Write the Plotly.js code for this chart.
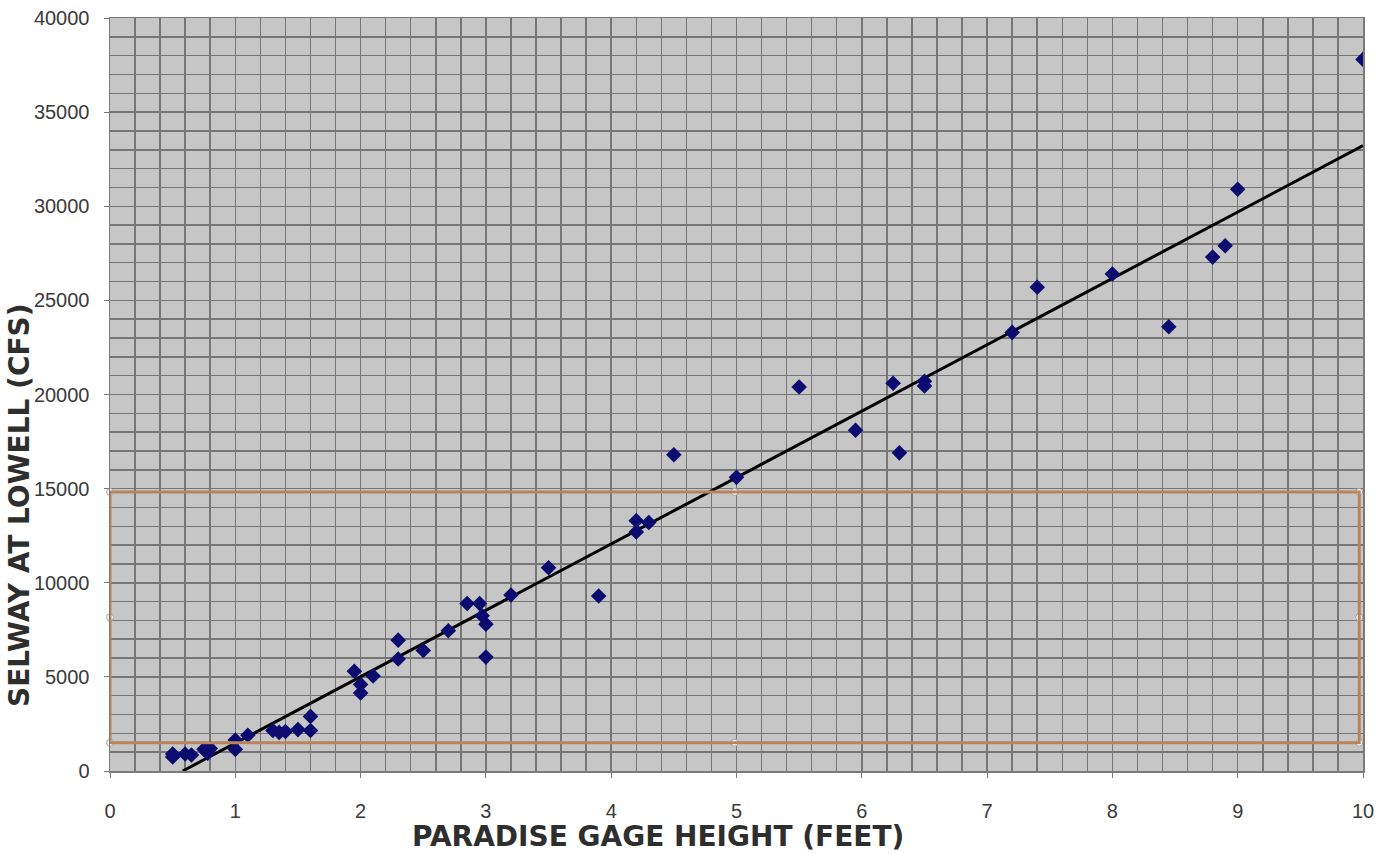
<!DOCTYPE html>
<html>
<head>
<meta charset="utf-8">
<script src="https://cdn.plot.ly/plotly-3.0.1.min.js"></script>
<style>html,body{margin:0;padding:0;background:#fff;}#chart{width:1396px;height:854px;}</style>
</head>
<body>
<div id="chart"></div>
<script>
// Observations: Paradise gage height (feet) vs Selway at Lowell (cfs)
const gageHeight = [0.5,0.5,0.6,0.65,0.75,0.78,0.8,1.0,1.0,1.1,1.3,1.35,1.4,1.5,1.6,1.6,1.95,2.0,2.0,2.1,2.3,2.3,2.5,2.7,2.85,2.95,2.97,3.0,3.0,3.2,3.5,3.9,4.2,4.2,4.3,4.5,5.0,5.5,5.95,6.25,6.3,6.5,6.5,7.2,7.4,8.0,8.45,8.8,8.9,9.0,10.0];
const selwayFlow = [750,900,900,850,1150,950,1200,1650,1150,1900,2150,2050,2100,2200,2900,2150,5300,4600,4150,5050,6950,5950,6400,7450,8900,8900,8250,7800,6050,9350,10800,9300,13300,12700,13200,16800,15600,20400,18100,20600,16900,20700,20450,23300,25700,26400,23600,27300,27900,30900,37800];

// Linear trendline end points
const trendX = [0.58, 10];
const trendY = [0, 33220];

// Highlight box (selected region)
const boxX = [0, 9.97];
const boxY = [1500, 14820];

const xTitle = 'PARADISE GAGE HEIGHT (FEET)';
const yTitle = 'SELWAY AT LOWELL (CFS)';

const xm = (boxX[0] + boxX[1]) / 2, ym = (boxY[0] + boxY[1]) / 2;
const handleX = [boxX[0], xm, boxX[1], boxX[0], boxX[1], boxX[0], xm, boxX[1]];
const handleY = [boxY[1], boxY[1], boxY[1], ym, ym, boxY[0], boxY[0], boxY[0]];

const traces = [
  {
    x: trendX, y: trendY, type: 'scatter', mode: 'lines',
    line: {color: '#000000', width: 3}, hoverinfo: 'skip', showlegend: false
  },
  {
    x: gageHeight, y: selwayFlow, type: 'scatter', mode: 'markers',
    marker: {symbol: 'diamond', size: 12, color: '#0c0c70', line: {width: 0}},
    showlegend: false
  },
  {
    x: handleX, y: handleY, type: 'scatter', mode: 'markers',
    marker: {symbol: 'circle', size: 7, color: '#ffffff', line: {color: '#a0a0a0', width: 1}},
    hoverinfo: 'skip', showlegend: false, cliponaxis: false
  }
];

const gridCol = '#767676';
const layout = {
  width: 1396, height: 854,
  margin: {l: 110, r: 33, t: 18, b: 83},
  paper_bgcolor: '#ffffff',
  plot_bgcolor: '#c6c6c6',
  showlegend: false,
  font: {family: 'Liberation Sans, Arial, sans-serif', size: 20, color: '#3a3a3a'},
  xaxis: {
    range: [0, 10], dtick: 1, tick0: 0, tickformat: 'd',
    showgrid: true, gridcolor: gridCol, gridwidth: 1.5,
    minor: {dtick: 0.2, showgrid: true, gridcolor: gridCol, gridwidth: 1.5},
    zeroline: false, showline: true, linecolor: '#7a7a7a', linewidth: 1.5, mirror: true,
    ticks: 'outside', ticklen: 5, tickcolor: '#7a7a7a',
    ticklabelstandoff: 16,
    tickfont: {size: 20, color: '#3a3a3a'}
  },
  yaxis: {
    range: [0, 40000], dtick: 5000, tick0: 0, tickformat: 'd',
    showgrid: true, gridcolor: gridCol, gridwidth: 1.5,
    minor: {dtick: 1000, showgrid: true, gridcolor: gridCol, gridwidth: 1.5},
    zeroline: false, showline: true, linecolor: '#7a7a7a', linewidth: 1.5, mirror: true,
    ticks: 'outside', ticklen: 5, tickcolor: '#7a7a7a',
    ticklabelstandoff: 10,
    tickfont: {size: 20, color: '#3a3a3a'}
  },
  shapes: [
    {
      type: 'rect', xref: 'x', yref: 'y',
      x0: boxX[0], x1: boxX[1], y0: boxY[0], y1: boxY[1],
      line: {color: '#b9845c', width: 3}, fillcolor: 'rgba(0,0,0,0)', layer: 'above'
    }
  ],
  annotations: [
    {
      text: xTitle, xref: 'paper', yref: 'paper', x: 0.4373, y: 0,
      xanchor: 'center', yanchor: 'middle', yshift: -65, showarrow: false,
      font: {family: 'DejaVu Sans, Arial, sans-serif', size: 28, weight: 'bold', color: '#2e2e2e'}
    },
    {
      text: yTitle, xref: 'paper', yref: 'paper', x: 0, y: 0.352,
      xanchor: 'center', yanchor: 'middle', xshift: -90, textangle: -90, showarrow: false,
      font: {family: 'DejaVu Sans, Arial, sans-serif', size: 28, weight: 'bold', color: '#2e2e2e'}
    }
  ]
};

Plotly.newPlot('chart', traces, layout, {displayModeBar: false, staticPlot: true});
</script>
</body>
</html>
